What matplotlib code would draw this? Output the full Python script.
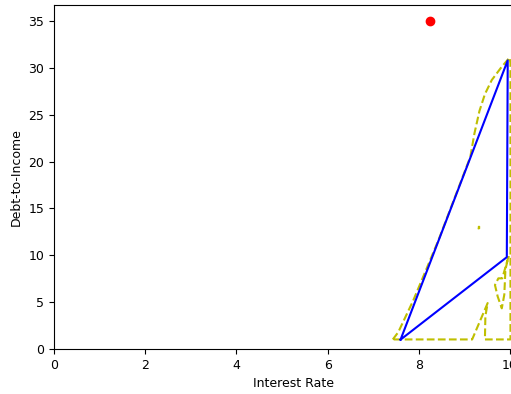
import matplotlib
matplotlib.use("Agg")
import matplotlib.pyplot as plt

plt.rcParams["font.family"] = ["DejaVu Sans"]
plt.rcParams["font.size"] = 9

# Highlighted applicant
point_rate = [8.25]
point_dti = [35.0]

# Convex hull of the accepted region
hull_rate = [7.60, 9.95, 9.93, 7.60]
hull_dti = [1.00, 30.8, 9.80, 1.00]

# Density contour: outer boundary
outer_rate = [7.43, 7.55, 7.88, 8.43, 9.13, 9.22, 9.33, 9.45, 9.60, 9.80,
              9.99, 10.01, 10.01, 10.01, 9.45, 9.46, 9.51, 9.17, 7.43]
outer_dti = [1.02, 1.80, 5.20, 11.6, 20.5, 23.0, 25.4, 27.2, 28.7, 30.0,
             31.1, 30.5, 10.0, 1.02, 1.02, 3.50, 4.90, 1.02, 1.02]

# Density contour: inner notch
notch_rate = [9.97, 9.83, 9.745, 9.67, 9.73, 9.82, 9.875, 9.90, 9.97]
notch_dti = [9.90, 7.54, 7.54, 6.83, 5.60, 4.34, 5.80, 8.50, 9.90]

# Density contour: small isolated island
island_rate = [9.29, 9.31, 9.31, 9.29, 9.29]
island_dti = [12.95, 12.95, 13.1, 13.1, 12.95]

fig = plt.figure(figsize=(5.11, 3.94), dpi=100)
px_per_unit = 45.6
x_max = 10.5
ax = fig.add_axes([54 / 511, 45 / 394, x_max * px_per_unit / 511, 344 / 394])

ax.plot(outer_rate, outer_dti, "y--", linewidth=1.5)
ax.plot(notch_rate, notch_dti, "y--", linewidth=1.5)
ax.plot(island_rate, island_dti, "y-", linewidth=1.0)
ax.plot(hull_rate, hull_dti, "b-", linewidth=1.5)
ax.plot(point_rate, point_dti, "ro", markersize=6)

ax.set_xlim(0, x_max)
ax.set_ylim(0, 344 / 9.371)
ax.set_xticks([0, 2, 4, 6, 8, 10])
ax.set_yticks([0, 5, 10, 15, 20, 25, 30, 35])
ax.set_xlabel("Interest Rate")
ax.set_ylabel("Debt-to-Income")

fig.savefig("out.png", dpi=100)
